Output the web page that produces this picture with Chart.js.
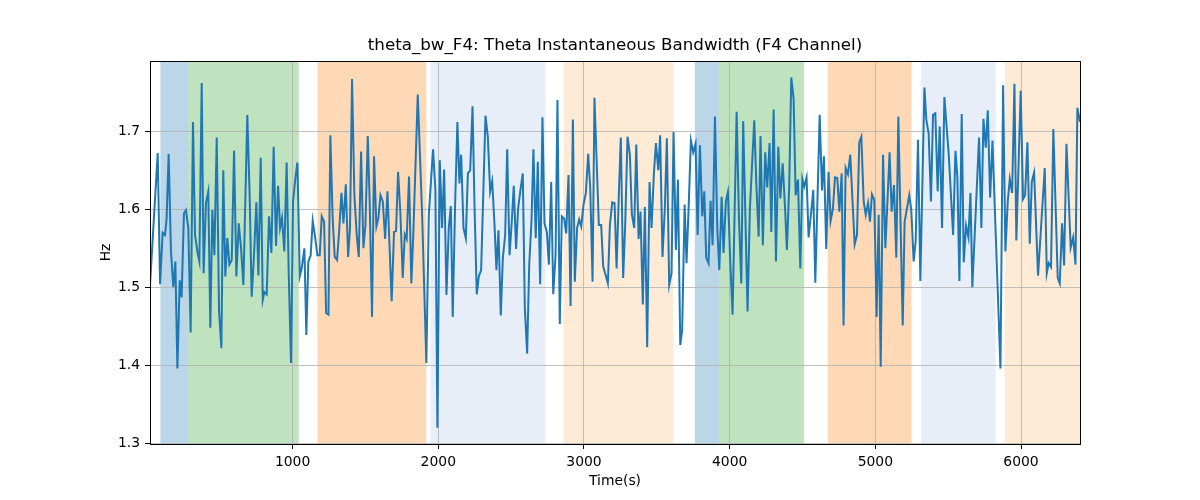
<!DOCTYPE html>
<html>
<head>
<meta charset="utf-8">
<script src="https://cdn.jsdelivr.net/npm/chart.js@4/dist/chart.umd.min.js"></script>
<style>
  html, body { margin: 0; padding: 0; background: #fff; }
  canvas { display: block; }
</style>
</head>
<body>
<canvas id="chart" width="1200" height="500" style="width:1200px;height:500px"></canvas>
<script>
/* global Chart */

const chartTitle = 'theta_bw_F4: Theta Instantaneous Bandwidth (F4 Channel)';
const xLabel = 'Time(s)';
const yLabel = 'Hz';

const xTicks = [1000, 2000, 3000, 4000, 5000, 6000];
const yTicks = [1.3, 1.4, 1.5, 1.6, 1.7];
const xRange = [21, 6405];
const yRange = [1.2991, 1.7901];

// time (s)
const times = [
  21, 74, 90, 108, 124, 135, 149, 165, 181, 195, 209, 225, 238, 254, 268, 284, 300, 316, 330, 346,
  360, 376, 389, 405, 421, 435, 449, 463, 479, 495, 511, 524, 538, 552, 566, 582, 598, 614, 630, 646,
  662, 689, 705, 719, 735, 751, 765, 781, 795, 806, 822, 838, 854, 870, 886, 900, 914, 927, 943, 959,
  973, 989, 1003, 1019, 1033, 1049, 1062, 1081,
  1094, 1108, 1124, 1138, 1154, 1170, 1186, 1200, 1216, 1230, 1246, 1259, 1275, 1289, 1305, 1319, 1335, 1349, 1365, 1381,
  1394, 1408, 1424, 1440, 1454, 1470, 1486, 1500, 1516, 1529, 1545, 1559, 1575, 1589, 1603, 1619, 1635, 1651, 1664, 1680,
  1696, 1710, 1724, 1740, 1756, 1770, 1783, 1799, 1815, 1829, 1859, 1889, 1918, 1935, 1964, 1980, 1994, 2010, 2026, 2040,
  2056, 2072, 2086, 2099, 2115, 2131, 2145,
  2157, 2173, 2189, 2203, 2219, 2235, 2248, 2264, 2278, 2294, 2324, 2340, 2356, 2370, 2386, 2399, 2413, 2429, 2443, 2459,
  2473, 2489, 2505, 2518, 2534, 2548, 2564, 2580, 2594, 2610, 2624, 2640, 2653, 2669, 2683, 2699, 2715, 2729, 2745, 2759,
  2775, 2789, 2805, 2818, 2834, 2848, 2864, 2878, 2894, 2908, 2924, 2937, 2953, 2967, 2981, 2997, 3013, 3029, 3043, 3059,
  3072, 3088, 3102, 3118, 3132, 3148, 3164, 3178, 3194, 3210,
  3224, 3240, 3253, 3269, 3283, 3299, 3315, 3329, 3345, 3359, 3375, 3388, 3404, 3418, 3434, 3450, 3464, 3480, 3494, 3510,
  3523, 3539, 3555, 3569, 3585, 3601, 3615, 3631, 3645, 3661, 3674, 3691, 3704, 3720, 3734, 3750, 3766, 3780, 3796, 3812,
  3826, 3839, 3855, 3869, 3883, 3899, 3915, 3929, 3945, 3958, 3974, 3988, 4004, 4020, 4048, 4064, 4080, 4093, 4123, 4139,
  4169, 4183, 4199, 4212, 4228, 4244, 4258, 4274,
  4286, 4302, 4318, 4334, 4348, 4364, 4380, 4393, 4409, 4423, 4439, 4453, 4469, 4485, 4499, 4512, 4528, 4542, 4558, 4574,
  4588, 4618, 4634, 4647, 4663, 4679, 4693, 4709, 4723, 4739, 4753, 4769, 4782, 4796, 4812, 4828, 4858, 4874, 4890, 4904,
  4920, 4934, 4950, 4963, 4977, 4993, 5009, 5023, 5037, 5053, 5069, 5098, 5112, 5128, 5144, 5158, 5188, 5201, 5233, 5247,
  5263, 5277, 5293, 5309,
  5337, 5350, 5366, 5382, 5396, 5412, 5428, 5442, 5458, 5474, 5504, 5534, 5550, 5563, 5577, 5593, 5607, 5623, 5639, 5653,
  5666, 5712, 5728, 5742, 5758, 5772, 5788, 5804, 5859, 5877, 5893, 5909, 5923, 5939, 5955, 5968, 5998, 6014, 6028, 6044,
  6060, 6074, 6090, 6117, 6163, 6177, 6190, 6206, 6222, 6252, 6266, 6282, 6296, 6312, 6341, 6358, 6374, 6387, 6405
];

// bandwidth (Hz)
const bandwidth = [
  1.503, 1.672, 1.504, 1.570, 1.567, 1.588, 1.671, 1.546, 1.500, 1.533, 1.396, 1.509, 1.487, 1.595, 1.599, 1.576, 1.442, 1.712, 1.567, 1.546,
  1.533, 1.762, 1.518, 1.608, 1.623, 1.448, 1.599, 1.541, 1.692, 1.469, 1.422, 1.650, 1.514, 1.563, 1.529, 1.535, 1.675, 1.514, 1.582, 1.550,
  1.503, 1.721, 1.618, 1.488, 1.541, 1.609, 1.515, 1.666, 1.484, 1.494, 1.491, 1.591, 1.544, 1.680, 1.553, 1.630, 1.576, 1.589, 1.546, 1.660,
  1.520, 1.403, 1.610, 1.640, 1.660, 1.514, 1.524, 1.550,
  1.439, 1.533, 1.541, 1.585, 1.565, 1.541, 1.541, 1.591, 1.584, 1.467, 1.465, 1.695, 1.588, 1.539, 1.535, 1.571, 1.621, 1.582, 1.632, 1.539,
  1.576, 1.767, 1.618, 1.567, 1.539, 1.674, 1.550, 1.580, 1.694, 1.610, 1.462, 1.668, 1.578, 1.589, 1.618, 1.610, 1.562, 1.623, 1.559, 1.482,
  1.571, 1.572, 1.648, 1.594, 1.512, 1.568, 1.562, 1.642, 1.505, 1.571, 1.747, 1.593, 1.403, 1.593, 1.677, 1.625, 1.320, 1.663, 1.576, 1.651,
  1.490, 1.576, 1.604, 1.462, 1.603, 1.712, 1.633,
  1.670, 1.576, 1.563, 1.646, 1.650, 1.732, 1.610, 1.491, 1.514, 1.522, 1.720, 1.693, 1.623, 1.636, 1.580, 1.522, 1.573, 1.464, 1.537, 1.567,
  1.677, 1.541, 1.586, 1.630, 1.549, 1.601, 1.625, 1.646, 1.473, 1.415, 1.529, 1.586, 1.677, 1.563, 1.661, 1.504, 1.718, 1.582, 1.571, 1.529,
  1.635, 1.491, 1.541, 1.740, 1.453, 1.591, 1.588, 1.569, 1.644, 1.476, 1.715, 1.507, 1.576, 1.587, 1.578, 1.606, 1.621, 1.671, 1.627, 1.507,
  1.743, 1.657, 1.580, 1.580, 1.527, 1.516, 1.505, 1.580, 1.609, 1.608,
  1.524, 1.623, 1.692, 1.512, 1.580, 1.693, 1.670, 1.593, 1.576, 1.683, 1.562, 1.597, 1.478, 1.603, 1.423, 1.635, 1.576, 1.646, 1.685, 1.650,
  1.695, 1.539, 1.601, 1.691, 1.503, 1.518, 1.699, 1.548, 1.638, 1.426, 1.445, 1.606, 1.531, 1.610, 1.688, 1.673, 1.684, 1.567, 1.682, 1.591,
  1.623, 1.538, 1.531, 1.611, 1.554, 1.719, 1.576, 1.522, 1.616, 1.544, 1.610, 1.622, 1.533, 1.465, 1.725, 1.588, 1.505, 1.713, 1.469, 1.601,
  1.714, 1.633, 1.565, 1.694, 1.554, 1.673, 1.628, 1.685,
  1.571, 1.728, 1.533, 1.680, 1.614, 1.659, 1.603, 1.548, 1.631, 1.769, 1.742, 1.618, 1.638, 1.524, 1.639, 1.629, 1.641, 1.564, 1.593, 1.625,
  1.506, 1.721, 1.624, 1.668, 1.549, 1.648, 1.585, 1.601, 1.641, 1.640, 1.597, 1.646, 1.451, 1.653, 1.645, 1.670, 1.555, 1.567, 1.686, 1.693,
  1.610, 1.593, 1.608, 1.584, 1.619, 1.612, 1.462, 1.593, 1.398, 1.670, 1.550, 1.673, 1.597, 1.631, 1.538, 1.719, 1.451, 1.584, 1.618, 1.599,
  1.533, 1.559, 1.689, 1.508,
  1.756, 1.715, 1.697, 1.610, 1.721, 1.723, 1.623, 1.706, 1.576, 1.744, 1.670, 1.567, 1.675, 1.642, 1.508, 1.722, 1.532, 1.579, 1.564, 1.621,
  1.500, 1.692, 1.576, 1.716, 1.679, 1.727, 1.615, 1.688, 1.396, 1.759, 1.546, 1.610, 1.639, 1.621, 1.761, 1.560, 1.752, 1.613, 1.618, 1.686,
  1.556, 1.635, 1.647, 1.515, 1.653, 1.518, 1.531, 1.526, 1.703, 1.512, 1.505, 1.582, 1.528, 1.684, 1.551, 1.564, 1.529, 1.730, 1.712
];

// shaded segments (time ranges)
const spanStarts = [92, 284, 1170, 1946, 2859, 3761, 3926, 4673, 5314, 5888];
const spanEnds = [284, 1042, 1918, 2736, 3613, 3926, 4512, 5249, 5826, 6405];
const spanKinds = [0, 1, 2, 3, 4, 0, 1, 2, 3, 4];

const spanFills = [
  'rgba(31,119,180,0.3)',
  'rgba(44,160,44,0.3)',
  'rgba(255,127,14,0.3)',
  'rgba(174,199,232,0.3)',
  'rgba(255,187,120,0.3)'
];

const FONT = 'DejaVu Sans, sans-serif';

const points = times.map((t, i) => ({ x: t, y: bandwidth[i] }));

// white background + vertical shaded bands under the grid
const spansPlugin = {
  id: 'spans',
  beforeDraw(chart) {
    const c = chart.ctx;
    const xs = chart.scales.x;
    const area = chart.chartArea;
    c.save();
    c.fillStyle = '#fff';
    c.fillRect(0, 0, chart.width, chart.height);
    for (let i = 0; i < spanStarts.length; i++) {
      const l = xs.getPixelForValue(spanStarts[i]);
      const r = Math.min(xs.getPixelForValue(spanEnds[i]), area.right);
      c.fillStyle = spanFills[spanKinds[i]];
      c.fillRect(l, area.top, r - l, area.bottom - area.top);
    }
    c.restore();
  }
};

// axes frame + titles
const framePlugin = {
  id: 'frame',
  afterDatasetsDraw(chart) {
    const c = chart.ctx;
    const a = chart.chartArea;
    c.save();
    c.strokeStyle = '#000';
    c.lineWidth = 1;
    c.strokeRect(Math.round(a.left) + 0.5, Math.round(a.top) + 0.5,
      Math.round(a.right - a.left), Math.round(a.bottom - a.top));
    c.restore();
  },
  afterDraw(chart) {
    const c = chart.ctx;
    const a = chart.chartArea;
    const cx = (a.left + a.right) / 2;
    c.save();
    c.fillStyle = '#000';
    c.textAlign = 'center';
    c.textBaseline = 'middle';
    c.font = '16.7px ' + FONT;
    c.fillText(chartTitle, cx, 46);
    c.font = '13.9px ' + FONT;
    c.fillText(xLabel, cx, 481);
    c.translate(106, (a.top + a.bottom) / 2);
    c.rotate(-Math.PI / 2);
    c.fillText(yLabel, 0, 0);
    c.restore();
  }
};

new Chart(document.getElementById('chart').getContext('2d'), {
  type: 'line',
  data: {
    datasets: [{
      data: points,
      parsing: false,
      borderColor: '#1f77b4',
      borderWidth: 2,
      pointRadius: 0,
      tension: 0,
      fill: false
    }]
  },
  options: {
    responsive: false,
    animation: false,
    layout: { padding: { left: 0, right: 120, top: 61, bottom: 0 } },
    scales: {
      x: {
        type: 'linear',
        min: xRange[0],
        max: xRange[1],
        afterFit: (s) => { s.height = 56; },
        afterBuildTicks: (s) => { s.ticks = xTicks.map(v => ({ value: v })); },
        grid: { color: '#b0b0b0', lineWidth: 0.8, tickColor: '#000', tickLength: 5, tickWidth: 1 },
        border: { display: false },
        ticks: {
          color: '#000',
          padding: 5,
          maxRotation: 0,
          font: { family: FONT, size: 13.9 },
          callback: (v) => String(v)
        }
      },
      y: {
        type: 'linear',
        min: yRange[0],
        max: yRange[1],
        afterFit: (s) => { s.width = 150; },
        afterBuildTicks: (s) => { s.ticks = yTicks.map(v => ({ value: v })); },
        grid: { color: '#b0b0b0', lineWidth: 0.8, tickColor: '#000', tickLength: 5, tickWidth: 1 },
        border: { display: false },
        ticks: {
          color: '#000',
          padding: 5,
          font: { family: FONT, size: 13.9 },
          callback: (v) => Number(v).toFixed(1)
        }
      }
    },
    plugins: {
      legend: { display: false },
      tooltip: { enabled: false },
      title: { display: false }
    }
  },
  plugins: [spansPlugin, framePlugin]
});
</script>
</body>
</html>
